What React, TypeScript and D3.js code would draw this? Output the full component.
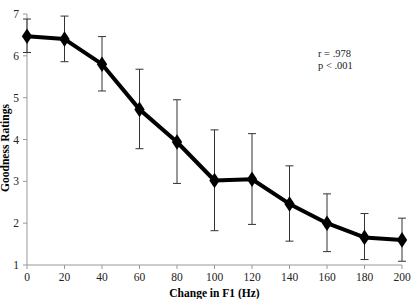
import React from 'react'
import * as d3 from 'd3'

const changes = [0, 20, 40, 60, 80, 100, 120, 140, 160, 180, 200]
const ratings = [6.47, 6.4, 5.8, 4.72, 3.94, 3.02, 3.05, 2.46, 2.0, 1.66, 1.6]
const errUpper = [6.88, 6.95, 6.46, 5.68, 4.95, 4.23, 4.14, 3.37, 2.7, 2.23, 2.12]
const errLower = [6.08, 5.86, 5.16, 3.78, 2.95, 1.82, 1.97, 1.57, 1.32, 1.13, 1.09]
const xTicks = [0, 20, 40, 60, 80, 100, 120, 140, 160, 180, 200]
const yTicks = [1, 2, 3, 4, 5, 6, 7]
const notes = ['r = .978', 'p < .001']

const W = 411
const H = 299
const left = 27
const right = 402
const top = 14
const bottom = 265
const font = "'Times New Roman', 'Liberation Serif', serif"

export default function App() {
  const x = d3.scaleLinear().domain([0, 200]).range([left, right])
  const y = d3.scaleLinear().domain([1, 7]).range([bottom, top])
  const line = d3.line<number>()
    .x((d, i) => x(changes[i]))
    .y(d => y(d))
  const diamond = d3.symbol().type(d3.symbolDiamond).size(70)()

  return (
    <svg width={W} height={H} style={{ position: 'absolute', left: 0, top: 0, fontFamily: font }}>
      <rect width={W} height={H} fill='#fff' />
      {/* axes */}
      <line x1={left} x2={left} y1={top} y2={bottom} stroke='#999' />
      <line x1={left} x2={right} y1={bottom} y2={bottom} stroke='#999' />
      {yTicks.map(t => (
        <g key={'y' + t}>
          <line x1={left - 4} x2={left} y1={y(t)} y2={y(t)} stroke='#999' />
          <text x={left - 8} y={y(t)} dy='0.35em' textAnchor='end' fontSize={11.5} fill='#222'>{t}</text>
        </g>
      ))}
      {xTicks.map(t => (
        <g key={'x' + t}>
          <line x1={x(t)} x2={x(t)} y1={bottom} y2={bottom + 4} stroke='#999' />
          <text x={x(t)} y={bottom + 16} textAnchor='middle' fontSize={11.5} fill='#222'>{t}</text>
        </g>
      ))}
      {/* error bars */}
      {changes.map((c, i) => (
        <g key={'e' + c} stroke='#333' strokeWidth={1}>
          <line x1={x(c)} x2={x(c)} y1={y(errUpper[i])} y2={y(errLower[i])} />
          <line x1={x(c) - 4} x2={x(c) + 4} y1={y(errUpper[i])} y2={y(errUpper[i])} />
          <line x1={x(c) - 4} x2={x(c) + 4} y1={y(errLower[i])} y2={y(errLower[i])} />
        </g>
      ))}
      <path d={line(ratings) || ''} fill='none' stroke='#000' strokeWidth={4} strokeLinejoin='round' />
      {ratings.map((r, i) => (
        <path key={'m' + i} d={diamond || ''} transform={`translate(${x(changes[i])},${y(r)}) scale(1.15,1)`} fill='#000' />
      ))}
      {notes.map((n, i) => (
        <text key={n} x={318} y={57 + i * 11.5} fontSize={10.5} fill='#222'>{n}</text>
      ))}
      <text transform={`translate(9,148) rotate(-90)`} textAnchor='middle' fontSize={11.5} fontWeight='bold'>Goodness Ratings</text>
      <text x={(left + right) / 2} y={297} textAnchor='middle' fontSize={11.5} fontWeight='bold'>Change in F1 (Hz)</text>
    </svg>
  )
}
